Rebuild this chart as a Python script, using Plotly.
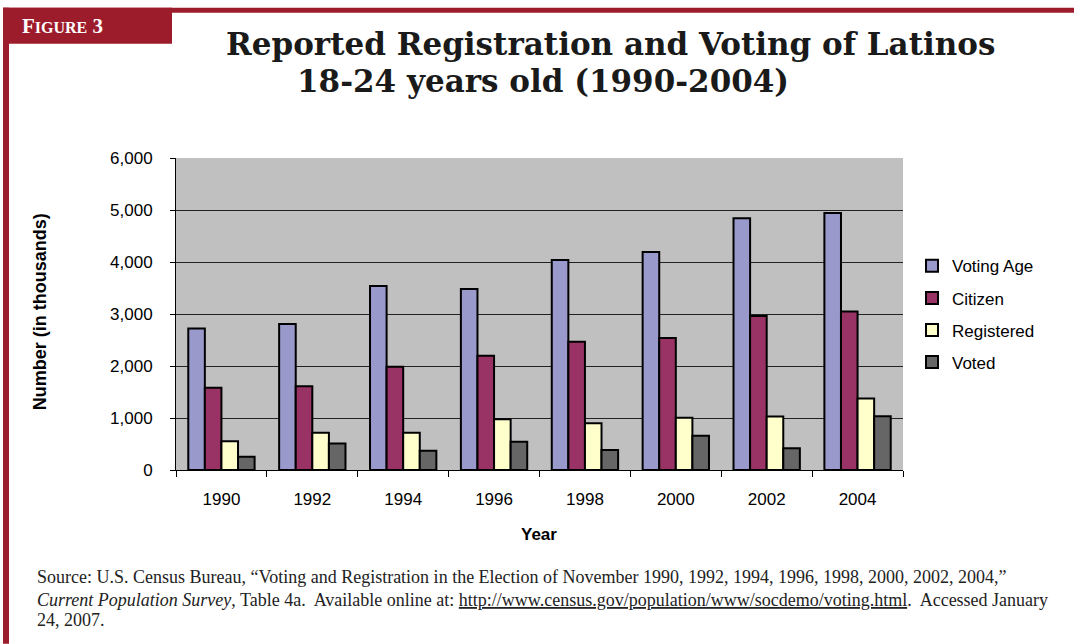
import plotly.graph_objects as go

# Reported registration and voting, Latinos aged 18-24 (thousands)
years = ["1990", "1992", "1994", "1996", "1998", "2000", "2002", "2004"]
voting_age = [2720, 2810, 3540, 3480, 4040, 4190, 4840, 4940]
citizen = [1580, 1610, 1985, 2195, 2465, 2540, 2960, 3050]
registered = [555, 715, 715, 975, 900, 1005, 1030, 1375]
voted = [255, 510, 370, 545, 385, 660, 420, 1035]

series = [
    ("Voting Age", voting_age, "#9999CC"),
    ("Citizen", citizen, "#993366"),
    ("Registered", registered, "#FFFFCC"),
    ("Voted", voted, "#666666"),
]

W, H = 1074, 644
L, R, T, B = 176, 171, 157.5, 174
PW, PH = W - L - R, H - T - B
RED = "#9D1C2B"
SANS = "Liberation Sans, Arial, sans-serif"
SERIF = "Liberation Serif, Times New Roman, serif"
TITLE_FONT = "DejaVu Serif, serif"


def px(x):
    return (x - L) / PW


def py(y):
    return (H - B - y) / PH


fig = go.Figure()
for name, vals, col in series:
    fig.add_trace(go.Bar(
        name=name, x=years, y=vals, legendgroup=name,
        marker=dict(color=col, line=dict(color="black", width=2)),
    ))

shapes = [
    # frame: top rule, left rule and the figure badge
    dict(type="rect", xref="paper", yref="paper", x0=px(3), x1=px(W), y0=py(12), y1=py(7),
         fillcolor=RED, line_width=0, layer="above"),
    dict(type="rect", xref="paper", yref="paper", x0=px(3), x1=px(9), y0=py(H), y1=py(7),
         fillcolor=RED, line_width=0, layer="above"),
    dict(type="rect", xref="paper", yref="paper", x0=px(3), x1=px(172), y0=py(43), y1=py(7),
         fillcolor=RED, line_width=0, layer="above"),
]


def note(text, x, y, family, size, color="black", xanchor="center", angle=0):
    return dict(text=text, x=px(x), y=py(y), xanchor=xanchor, yanchor="middle",
                textangle=angle, font=dict(family=family, size=size, color=color),
                showarrow=False, xref="paper", yref="paper")


annotations = [
    note("<b>F<span style='font-size:16px'>IGURE</span> 3</b>", 20, 25, SERIF, 21, "white", "left"),
    note("<b>Reported Registration and Voting of Latinos</b>", 610, 43, TITLE_FONT, 31, "#1a1a1a"),
    note("<b>18-24 years old (1990-2004)</b>", 543, 80, TITLE_FONT, 31, "#1a1a1a"),
    note("<b>Number (in thousands)</b>", 40, 312, SANS, 18, angle=-90),
    note("<b>Year</b>", 539, 535, SANS, 17),
    note("Source: U.S. Census Bureau, “Voting and Registration in the Election of November 1990, "
         "1992, 1994, 1996, 1998, 2000, 2002, 2004,”", 35, 577, SERIF, 18, "#222", "left"),
    note("<i>Current Population Survey</i>, Table 4a.  Available online at: "
         "<u>http://www.census.gov/population/www/socdemo/voting.html</u>.  Accessed January",
         35, 600, SERIF, 18, "#222", "left"),
    note("24, 2007.", 35, 620, SERIF, 18, "#222", "left"),
]

fig.update_layout(
    width=W, height=H,
    margin=dict(l=L, r=R, t=T, b=B, pad=0),
    paper_bgcolor="white",
    plot_bgcolor="#C0C0C0",
    barmode="group",
    bargap=0.27,
    bargroupgap=0,
    font=dict(family=SANS, size=17, color="black"),
    showlegend=True,
    legend=dict(
        x=px(912), y=py(314), xanchor="left", yanchor="middle",
        traceorder="grouped", tracegroupgap=7,
        font=dict(family=SANS, size=17, color="black"),
        bgcolor="rgba(0,0,0,0)",
    ),
    shapes=shapes,
    annotations=annotations,
)

fig.update_xaxes(
    type="category", tickson="boundaries", ticks="outside", ticklen=6, tickcolor="black",
    showline=True, linecolor="black", linewidth=1, showgrid=False,
    ticklabelstandoff=14, tickfont=dict(family=SANS, size=17),
)
fig.update_yaxes(
    range=[0, 6000], dtick=1000, tickformat=",d", ticks="outside", ticklen=5, tickcolor="black",
    showline=True, linecolor="black", linewidth=1,
    showgrid=True, gridcolor="#222222", gridwidth=1, zeroline=False,
    ticklabelstandoff=14, tickfont=dict(family=SANS, size=17),
)

fig.write_html("out.html")
